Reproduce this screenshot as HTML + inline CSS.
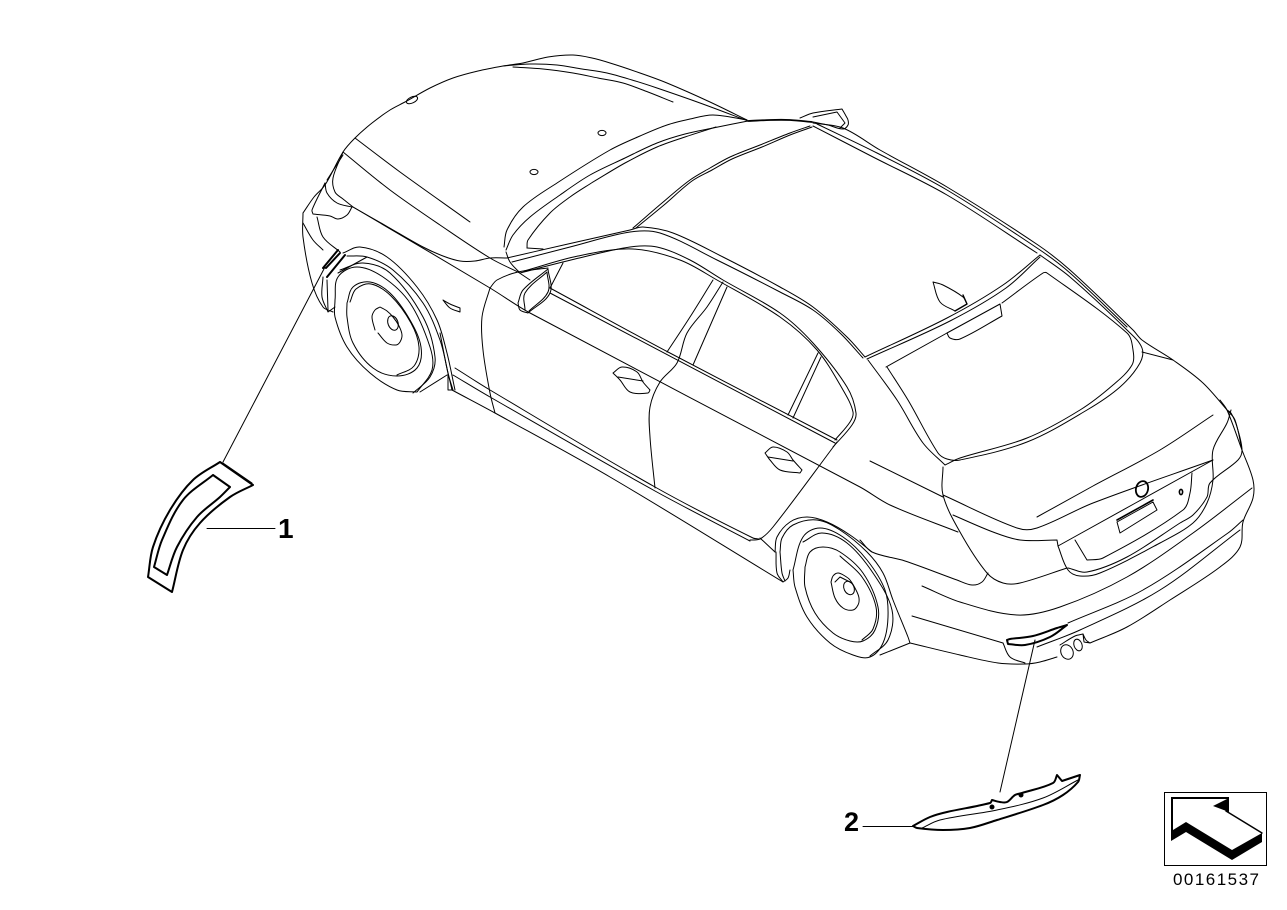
<!DOCTYPE html>
<html><head><meta charset="utf-8"><style>
html,body{margin:0;padding:0;background:#fff}
svg{display:block}
polyline,path.c,ellipse,polygon.o{fill:none;stroke:#000;stroke-width:1;stroke-linejoin:round;stroke-linecap:round}
.t polyline,.t path.c,.t polygon.o,.t ellipse{stroke-width:2}
text{font-family:"Liberation Sans",sans-serif;fill:#000}
</style></head><body>
<svg id="d" width="1287" height="910" viewBox="0 0 1287 910" xmlns="http://www.w3.org/2000/svg">
<rect width="1287" height="910" fill="#fff"/>
<g>
<!-- hood -->
<polyline points="303,213 314,197 325,185 343,152 355,138 372,123 390,110 405,102 430,88 453,78 478,71 503,66 523,63 548,57 573,55 592,58 610,63 640,73 667,83 710,102 747,120"/>
<polyline points="503,66 530,64 557,65 582,69 607,73 632,80 657,88 700,103 748,121"/>
<polyline points="513,67 543,69 573,73 598,78 623,83 648,92 673,102"/>
<polyline points="355,138 400,172 470,222"/>
<polyline points="343,152 390,190 440,225 490,258 520,273"/>
<polyline points="353,207 388,227 423,247 443,256 460,261 475,261 490,258 507,258"/>
<polyline points="353,207 490,288 530,313 860,487 890,505 958,532"/>
<ellipse cx="412" cy="100" rx="6" ry="3" transform="rotate(-25 412 100)"/>
<ellipse cx="602" cy="133" rx="4" ry="2.6"/>
<ellipse cx="534" cy="172" rx="4" ry="2.6"/>
<!-- headlight -->
<polyline points="343,152 333,178 335,192 343,199 353,207"/>
<polyline points="325,183 327,193 337,203 352,207"/>
<polyline points="325,183 312,210 313,214 330,216 338,219 347,215 352,207"/>
<polyline points="343,155 327,180"/>
<polyline points="303,213 303,237 312,283 323,307 333,312"/>
<polyline points="317,217 323,237 340,252"/>
<polyline points="303,223 313,240 323,250"/>
<!-- windshield / A pillar -->
<polyline points="504,247 507,230 523,207 557,183 610,150 640,136 667,125 690,119 713,115 747,120"/>
<polyline points="506,250 513,235 530,217 560,195 590,175 625,158 657,143 685,134 713,128 748,121"/>
<polyline points="593,182 625,163 657,147 685,137 716,127"/>
<polyline points="527,248 528,240 550,213 570,197 593,182"/>
<polyline points="527,248 543,249"/>
<polyline points="633,228 662,203 690,180 710,168 730,157 760,145 790,133 810,126"/>
<polyline points="636,228 664,205 692,181 712,170 732,159 762,147 790,135 812,127"/>
<polyline points="748,121 770,120 790,120 812,122" style="stroke-width:1.8"/>
<polyline points="506,252 510,262 519,272"/>
<!-- spoiler fin top -->
<polyline points="800,118 813,113 842,109 846,116 848,120 848,125 843,129 828,125 813,122"/>
<polyline points="813,117 837,112 845,123 840,128"/>
<!-- roof rails -->
<polyline points="507,258 568,244 630,230 643,227 673,233 723,257 780,287 813,307 847,337 865,357"/>
<polyline points="512,262 570,247 630,232 660,233 717,260 780,292 813,310 840,333 863,358"/>
<polyline points="520,273 575,259 630,247 657,247 690,260 723,280 780,313 813,343 847,387 856,413 852,425 833,447"/>
<polyline points="524,271 578,256 633,249 680,260 717,280 780,317 817,350 843,390 853,412 850,422 835,440"/>
<polyline points="550,288 668,352 837,440"/>
<polyline points="550,293 835,443"/>
<polyline points="563,263 550,288"/>
<!-- door lines -->
<polyline points="490,288 482,317 483,350 490,393 495,413"/>
<polyline points="723,282 707,307 687,333 677,363 660,382 650,407 650,437 655,488"/>
<polyline points="713,280 690,317 667,352"/>
<polyline points="727,287 693,365"/>
<polyline points="837,442 773,527 760,539 750,540"/>
<polyline points="818,353 788,415"/>
<polyline points="821,357 793,418"/>
<!-- sills -->
<polyline points="455,368 490,390 655,487 753,538 760,539"/>
<polyline points="453,375 490,397 655,491 750,541"/>
<polyline points="452,390 495,413 610,477 783,582"/>
<polyline points="440,333 448,373 453,390"/>
<polyline points="448,373 448,390 452,390"/>
<!-- handles -->
<polygon class="o" points="613,373 622,367 637,372 643,382 650,390 648,393 630,392 620,380"/>
<polyline points="618,377 643,381"/>
<polygon class="o" points="765,453 773,447 787,452 793,460 802,470 800,473 780,470 770,460"/>
<polyline points="768,457 793,461"/>
<!-- mirror -->
<polygon class="o" points="518,303 523,290 548,269 550,293 528,313 520,310"/>
<polyline points="525,310 525,293 547,272 548,292 529,311"/>
<polyline points="490,288 497,280 518,272 548,268"/>
<polyline points="518,272 530,280"/>
<polygon class="o" points="443,300 450,308 460,312 460,308 450,304"/>
<!-- front wheel -->
<polyline points="335,300 338,277 357,267 383,277 410,303 430,347 432,370 417,392 397,390 370,373 347,347 335,317 335,300"/>
<polyline points="347,303 353,287 370,282 390,293 410,320 421,347 417,368 397,376 373,368 353,343 347,317 347,303"/>
<polyline points="350,302 356,289 371,284 391,296 411,323 419,347 414,366 397,375"/>
<ellipse cx="393" cy="323" rx="5" ry="7.5" transform="rotate(-20 393 323)"/>
<polyline points="375,330 372,317 375,310 380,307 387,311 393,317 399,326 402,335 400,342 396,345 387,343 378,333"/>
<polyline points="343,253 360,247 387,257 417,287 437,320 447,353 455,390"/>
<polyline points="347,256 367,257 393,270 423,303 440,340 448,373 452,390"/>
<polyline points="367,257 338,273"/>
<polyline points="340,270 363,263 390,273 423,317 435,357 430,377 413,393"/>
<polyline points="447,375 420,392"/>
<!-- front arch strip -->
<polyline points="323,277 322,297 328,312 335,307"/>
<polyline points="327,280 328,310"/>
<g class="t">
<polyline points="323,268 338,250"/>
<polyline points="327,277 345,255"/>
<polyline points="326,268 340,253"/>
</g>
<!-- rear wheel -->
<polyline points="793,570 803,537 820,528 843,537 867,560 885,590 888,617 883,643 870,657 853,655 830,643 807,617 795,587 793,570"/>
<polyline points="803,542 822,533 847,543 873,573 892,610 888,640 870,656"/>
<polyline points="805,567 810,552 823,547 840,552 863,573 878,607 875,630 863,641 850,641 833,633 815,613 805,587 805,567"/>
<polyline points="840,556 862,577 876,607 873,629 862,640"/>
<ellipse cx="849" cy="588" rx="5" ry="7" transform="rotate(-25 849 588)"/>
<polyline points="831,582 833,576 838,573 845,576 850,580 856,590 859,598 858,605 853,610 843,608 835,598 831,582"/>
<polyline points="835,582 840,577 852,583"/>
<polyline points="775,552 777,537 790,522 807,517 827,522 850,535 872,552"/>
<polyline points="780,552 782,538 793,525 817,520 840,530 867,552 883,573 893,600 908,637 910,643"/>
<polyline points="776,552 777,573 783,582 788,578 790,570"/>
<polyline points="780,552 782,573 785,581"/>
<polyline points="760,538 775,552"/>
<polyline points="910,643 880,655"/>
<!-- trunk -->
<polyline points="943,467 943,495 960,532 987,573 1003,583 1020,583 1067,568"/>
<polyline points="943,495 1017,528 1037,528 1093,503 1213,460"/>
<polyline points="953,515 993,532 1020,540 1057,540 1058,546 1213,460"/>
<polyline points="870,461 943,497"/>
<polyline points="1037,517 1093,486 1160,450 1213,415"/>
<polyline points="860,540 872,552 905,561 957,580 972,585 982,582 988,573"/>
<polyline points="1058,546 1068,570 1080,576 1100,573 1160,543 1193,523 1207,503 1213,480 1213,450 1227,423 1231,410"/>
<polyline points="1068,568 1087,572 1127,557 1180,523 1193,515 1207,497 1210,483 1238,460 1242,450 1237,427 1231,413 1227,410"/>
<polyline points="1220,400 1227,410 1242,450 1253,480 1253,498 1243,522 1240,547 1220,567 1170,600 1127,627 1090,643"/>
<polyline points="1075,540 1087,560 1103,558 1183,510 1190,493 1192,473"/>
<polygon class="o" points="1117,522 1153,502 1157,510 1120,533"/>
<ellipse cx="1142" cy="489" rx="6" ry="8" transform="rotate(15 1142 489)" style="stroke-width:1.8"/>
<ellipse cx="1181" cy="492" rx="1.6" ry="2.6" style="stroke-width:1.6"/>
<polyline points="1117,520 1153,500" style="stroke-width:1.6"/>
<!-- bumper -->
<polyline points="922,586 960,602 1017,615 1060,607 1127,577 1193,533 1252,488"/>
<polyline points="912,616 1003,643"/>
<polyline points="1068,623 1143,590 1228,533 1243,520"/>
<polyline points="1037,647 1080,630 1160,590 1240,530"/>
<polyline points="910,643 960,655 998,663 1025,664 1040,662 1057,657"/>
<polyline points="1003,643 1010,657 1025,663"/>
<ellipse cx="1067" cy="652" rx="6" ry="7.5" transform="rotate(-25 1067 652)" fill="#fff"/>
<ellipse cx="1078" cy="645" rx="4" ry="6" transform="rotate(-20 1078 645)"/>
<polyline points="1060,645 1075,636 1083,634"/>
<polyline points="1083,634 1086,640 1090,643 1084,642 1083,634"/>
<g class="t">
<polyline points="1007,640 1008,644 1025,645 1050,637 1067,625 1057,628 1033,636 1010,639 1007,640"/>
</g>
<!-- rear window / roof -->
<polyline points="813,123 843,128 880,150 947,187 1038,245 1070,270 1133,330 1142,340 1173,360 1203,383 1227,410 1235,420 1242,450"/>
<polyline points="817,124 877,153 947,190 1040,250 1070,273 1127,327"/>
<polyline points="813,126 873,157 947,195 1037,253"/>
<polyline points="865,357 947,318 1003,285 1040,255"/>
<polyline points="867,359 950,321 1006,288 1040,257"/>
<polyline points="1040,255 1070,277 1127,330 1142,348 1140,363 1120,387 1087,410 1027,442 960,460 947,459 938,453 908,400 887,367"/>
<polyline points="886,367 947,333"/>
<polyline points="1002,303 1043,273 1047,273 1127,333 1133,350 1132,365 1113,385 1080,410 1027,438 960,458 945,465 923,443 897,400 868,360"/>
<polyline points="1142,352 1173,360"/>
<polygon class="o" points="947,333 950,338 960,339 1002,316 1000,304"/>
<polygon class="o" points="933,282 940,302 955,311 967,304 963,297 943,285"/>
<polyline points="955,311 967,304 963,295" style="stroke-width:1.4"/>
</g>
<!-- leader lines -->
<polyline points="325,267 223,462"/>
<polyline points="1035,640 1000,792"/>
<polyline points="207,528.5 275,528.5"/>
<polyline points="863,826.5 913,826.5"/>
<!-- part 1 -->
<g class="t">
<polygon class="o" points="220,462 253,485 230,497 200,523 183,550 172,592 148,577 153,547 170,510 193,480"/>
<polygon class="o" points="213,475 230,487 220,497 197,517 177,547 167,575 154,567 162,540 183,500"/>
</g>
<polyline points="223,463 252,483"/>
<!-- part 2 -->
<g class="t">
<polygon class="o" points="913,826 930,817 947,812 990,803 992,800 1000,802 1007,802 1015,795 1022,793 1053,783 1057,775 1062,781 1080,775 1078,782 1063,795 1043,805 997,820 970,828 943,830 917,828"/>
</g>
<polyline points="922,828 940,820 997,810 1043,798 1078,780"/>
<ellipse cx="992" cy="807" rx="2" ry="2" style="fill:#000"/>
<ellipse cx="1021" cy="795" rx="2" ry="2" style="fill:#000"/>
<!-- labels -->
<text x="278" y="538" font-size="28" font-weight="700">1</text>
<text x="844" y="831" font-size="27" font-weight="700">2</text>
<!-- icon -->
<rect x="1164.5" y="792.5" width="102" height="73" fill="none" stroke="#000" stroke-width="1"/>
<polygon points="1171,797 1229,797 1229,799 1173,799 1173,830 1186,822 1232,850 1262,833 1262,842 1232,860 1186,832 1171,841" fill="#000"/>
<polygon points="1213,806 1229,798 1229,812" fill="#000"/>
<polyline points="1226,811 1262,833" style="stroke-width:1.5"/>
<text x="1173" y="885" font-size="17" textLength="86" lengthAdjust="spacing">00161537</text>
</svg>
<script>
(function(){
var svg=document.getElementById('d'),els=svg.querySelectorAll('polyline,polygon.o');
function f(n){return n.toFixed(1)}
for(var e=0;e<els.length;e++){
 var el=els[e],nums=el.getAttribute('points').trim().split(/[\s,]+/).map(Number),p=[];
 for(var i=0;i<nums.length;i+=2)p.push([nums[i],nums[i+1]]);
 if(p.length<3)continue;
 if(el.tagName.toLowerCase()=='polygon')p.push(p[0]);
 var corner=function(i){
  if(i==0||i==p.length-1)return true;
  var a=Math.atan2(p[i][1]-p[i-1][1],p[i][0]-p[i-1][0]),b=Math.atan2(p[i+1][1]-p[i][1],p[i+1][0]-p[i][0]),t=Math.abs(a-b);
  if(t>Math.PI)t=2*Math.PI-t;return t>Math.PI/3;};
 var tan=function(i){
  if(corner(i))return null;
  var x=p[i+1][0]-p[i-1][0],y=p[i+1][1]-p[i-1][1],l=Math.hypot(x,y)||1;return [x/l,y/l];};
 var d='M'+p[0][0]+' '+p[0][1];
 for(var j=0;j<p.length-1;j++){
  var a=p[j],b=p[j+1],L=Math.hypot(b[0]-a[0],b[1]-a[1])/3,t1=tan(j),t2=tan(j+1);
  var c1=t1?[a[0]+t1[0]*L,a[1]+t1[1]*L]:[a[0]+(b[0]-a[0])/3,a[1]+(b[1]-a[1])/3];
  var c2=t2?[b[0]-t2[0]*L,b[1]-t2[1]*L]:[b[0]-(b[0]-a[0])/3,b[1]-(b[1]-a[1])/3];
  d+='C'+f(c1[0])+' '+f(c1[1])+' '+f(c2[0])+' '+f(c2[1])+' '+b[0]+' '+b[1];
 }
 var q=document.createElementNS('http://www.w3.org/2000/svg','path');
 q.setAttribute('d',d);q.setAttribute('class','c');
 if(el.getAttribute('style'))q.setAttribute('style',el.getAttribute('style'));
 el.parentNode.replaceChild(q,el);
}
})();
</script>
</body></html>
